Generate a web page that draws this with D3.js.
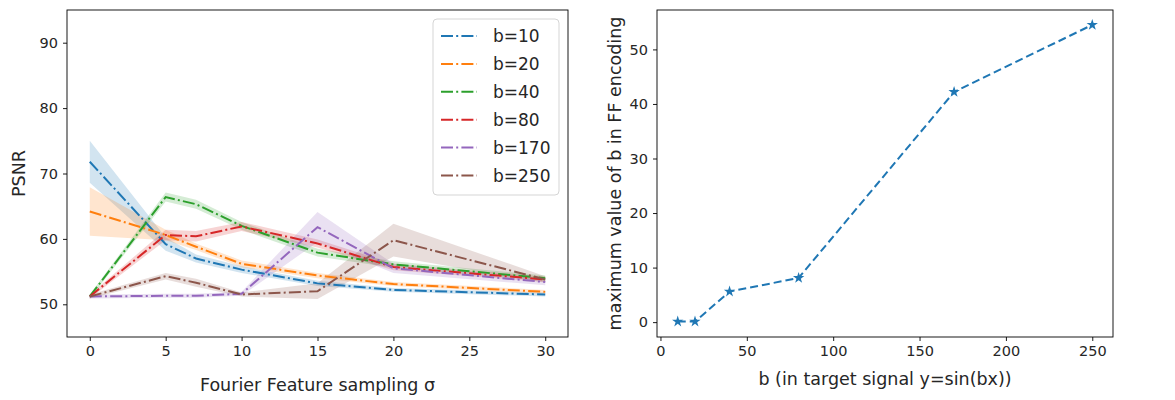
<!DOCTYPE html>
<html>
<head>
<meta charset="utf-8">
<script src="https://cdn.jsdelivr.net/npm/d3@7"></script>
<style>
  body { margin: 0; background: #fff; }
  svg { display: block; }
  text { font-family: "DejaVu Sans", sans-serif; fill: #262626; }
</style>
</head>
<body>
<svg id="chart" width="1175" height="400"></svg>
<script>
// ---- data (left panel) ----
const sigma = [0, 5, 7, 10, 15, 20, 30];
const seriesNames = ["b=10", "b=20", "b=40", "b=80", "b=170", "b=250"];
const b10  = [71.8, 59.2, 57.0, 55.3, 53.2, 52.2, 51.5];
const b20  = [64.2, 60.6, 58.8, 56.2, 54.4, 53.1, 51.9];
const b40  = [51.2, 66.4, 65.3, 62.0, 57.9, 56.1, 54.0];
const b80  = [51.2, 60.6, 60.4, 61.9, 59.3, 55.7, 53.8];
const b170 = [51.2, 51.3, 51.3, 51.6, 61.8, 55.5, 53.4];
const b250 = [51.2, 54.3, 53.3, 51.5, 52.0, 59.8, 53.8];
const b10Err  = [3.2, 1.0, 0.6, 0.5, 0.4, 0.3, 0.3];
const b20Err  = [3.7, 0.8, 0.5, 0.5, 0.4, 0.3, 0.3];
const b40Err  = [0.3, 0.7, 0.7, 0.6, 0.6, 0.5, 0.4];
const b80Err  = [0.3, 0.8, 0.8, 0.7, 0.6, 0.5, 0.4];
const b170Err = [0.3, 0.3, 0.3, 0.3, 2.3, 0.7, 0.5];
const b250Err = [0.3, 0.5, 0.6, 0.3, 1.2, 2.5, 0.5];
const leftXTicks = [0, 5, 10, 15, 20, 25, 30];
const leftYTicks = [50, 60, 70, 80, 90];

// ---- data (right panel) ----
const bValues = [10, 20, 40, 80, 170, 250];
const maxB = [0.1, 0.1, 5.6, 8.1, 42.2, 54.5];
const rightXTicks = [0, 50, 100, 150, 200, 250];
const rightYTicks = [0, 10, 20, 30, 40, 50];

const colors = ["#1f77b4", "#ff7f0e", "#2ca02c", "#d62728", "#9467bd", "#8c564b"];
const allSeries = [b10, b20, b40, b80, b170, b250];
const allErr = [b10Err, b20Err, b40Err, b80Err, b170Err, b250Err];

const svg = d3.select("#chart");
const tickFont = "14.5px", labelFont = "17.5px";

// ---------- LEFT PANEL ----------
const L = {x0: 67, x1: 568, y0: 10, y1: 337};
const xL = d3.scaleLinear().domain([-1.5, 31.5]).range([L.x0, L.x1]);
const yL = d3.scaleLinear().domain([45, 95]).range([L.y1, L.y0]);

const gL = svg.append("g");
const area = d3.area().x((d, i) => xL(sigma[i])).y0(d => yL(d[0])).y1(d => yL(d[1]));
const line = d3.line().x((d, i) => xL(sigma[i])).y(d => yL(d));

allSeries.forEach((s, k) => {
  const band = s.map((v, i) => [v - allErr[k][i], v + allErr[k][i]]);
  gL.append("path").attr("d", area(band))
    .attr("fill", colors[k]).attr("fill-opacity", 0.2).attr("stroke", "none");
});
allSeries.forEach((s, k) => {
  gL.append("path").attr("d", line(s))
    .attr("fill", "none").attr("stroke", colors[k]).attr("stroke-width", 2)
    .attr("stroke-dasharray", "12,3.2,2,3.2");
});

function styleAxis(g) {
  g.selectAll(".domain").remove();
  g.selectAll("line").attr("stroke", "#000").attr("stroke-width", 0.9);
  g.selectAll("text").attr("font-size", tickFont).attr("fill", "#262626")
    .attr("font-family", "DejaVu Sans, sans-serif");
}

gL.append("g").attr("transform", `translate(0,${L.y1})`)
  .call(d3.axisBottom(xL).tickValues(leftXTicks).tickSize(4).tickPadding(5))
  .call(styleAxis);
gL.append("g").attr("transform", `translate(${L.x0},0)`)
  .call(d3.axisLeft(yL).tickValues(leftYTicks).tickSize(4).tickPadding(5))
  .call(styleAxis);
gL.append("rect").attr("x", L.x0).attr("y", L.y0)
  .attr("width", L.x1 - L.x0).attr("height", L.y1 - L.y0)
  .attr("fill", "none").attr("stroke", "#000").attr("stroke-width", 0.9);

gL.append("text").attr("x", (L.x0 + L.x1) / 2).attr("y", 391)
  .attr("text-anchor", "middle").attr("font-size", labelFont)
  .text("Fourier Feature sampling σ");
gL.append("text").attr("transform", `translate(25,${(L.y0 + L.y1) / 2}) rotate(-90)`)
  .attr("text-anchor", "middle").attr("font-size", labelFont).text("PSNR");

// legend
const leg = gL.append("g");
leg.append("rect").attr("x", 433).attr("y", 19).attr("width", 126).attr("height", 176)
  .attr("rx", 4).attr("fill", "#fff").attr("fill-opacity", 0.8)
  .attr("stroke", "#d5d5d5").attr("stroke-width", 1);
seriesNames.forEach((name, k) => {
  const cy = 36 + k * 27.9;
  leg.append("line").attr("x1", 441).attr("x2", 477).attr("y1", cy).attr("y2", cy)
    .attr("stroke", colors[k]).attr("stroke-width", 2)
    .attr("stroke-dasharray", "12,3.2,2,3.2");
  leg.append("text").attr("x", 493).attr("y", cy).attr("dy", "0.36em")
    .attr("font-size", "17px").text(name);
});

// ---------- RIGHT PANEL ----------
const R = {x0: 657, x1: 1113, y0: 10, y1: 337};
const xR = d3.scaleLinear().domain([-2, 262]).range([R.x0, R.x1]);
const yR = d3.scaleLinear().domain([-2.725, 57.225]).range([R.y1, R.y0]);
const gR = svg.append("g");

gR.append("path")
  .attr("d", d3.line().x((d, i) => xR(bValues[i])).y(d => yR(d))(maxB))
  .attr("fill", "none").attr("stroke", "#1f77b4").attr("stroke-width", 2)
  .attr("stroke-dasharray", "8,4");
gR.selectAll("path.star").data(maxB).enter().append("path")
  .attr("class", "star")
  .attr("transform", (d, i) => `translate(${xR(bValues[i])},${yR(d)})`)
  .attr("d", d3.symbol().type(d3.symbolStar).size(40))
  .attr("fill", "#1f77b4");

gR.append("g").attr("transform", `translate(0,${R.y1})`)
  .call(d3.axisBottom(xR).tickValues(rightXTicks).tickSize(4).tickPadding(5))
  .call(styleAxis);
gR.append("g").attr("transform", `translate(${R.x0},0)`)
  .call(d3.axisLeft(yR).tickValues(rightYTicks).tickSize(4).tickPadding(5))
  .call(styleAxis);
gR.append("rect").attr("x", R.x0).attr("y", R.y0)
  .attr("width", R.x1 - R.x0).attr("height", R.y1 - R.y0)
  .attr("fill", "none").attr("stroke", "#000").attr("stroke-width", 0.9);

gR.append("text").attr("x", (R.x0 + R.x1) / 2).attr("y", 385)
  .attr("text-anchor", "middle").attr("font-size", labelFont)
  .text("b (in target signal y=sin(bx))");
gR.append("text").attr("transform", `translate(621,${(R.y0 + R.y1) / 2}) rotate(-90)`)
  .attr("text-anchor", "middle").attr("font-size", labelFont)
  .text("maximum value of b in FF encoding");
</script>
</body>
</html>
